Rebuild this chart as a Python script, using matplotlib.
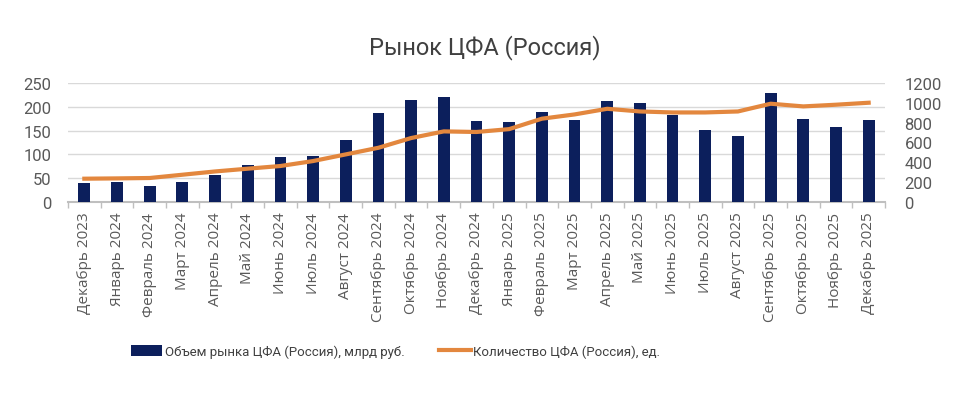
import matplotlib
matplotlib.use("Agg")
import matplotlib.pyplot as plt
import numpy as np

plt.rcParams['font.family'] = ['Roboto', 'DejaVu Sans']

months = ["Декабрь 2023", "Январь 2024", "Февраль 2024", "Март 2024", "Апрель 2024",
          "Май 2024", "Июнь 2024", "Июль 2024", "Август 2024", "Сентябрь 2024",
          "Октябрь 2024", "Ноябрь 2024", "Декабрь 2024", "Январь 2025", "Февраль 2025",
          "Март 2025", "Апрель 2025", "Май 2025", "Июнь 2025", "Июль 2025",
          "Август 2025", "Сентябрь 2025", "Октябрь 2025", "Ноябрь 2025", "Декабрь 2025"]

# объем рынка, млрд руб.
volume = [39, 41, 34, 42, 56, 77, 94, 96, 131, 187, 215, 220, 171,
          168, 189, 173, 213, 208, 182, 152, 138, 229, 175, 158, 173]

# количество выпусков, ед.
count = [235, 238, 242, 275, 308, 336, 363, 413, 480, 547, 645, 712, 706,
         735, 840, 883, 940, 913, 903, 903, 913, 991, 964, 981, 1001]

navy = "#0c1f5c"
orange = "#e3873e"
grey_txt = "#595959"

fig = plt.figure(figsize=(9.6, 4.14), dpi=100)
ax = fig.add_axes([68 / 960, 1 - 203 / 414, 817 / 960, 119 / 414])
ax2 = ax.twinx()

x = np.arange(len(months))
ax.bar(x, volume, width=0.36, color=navy, zorder=3, label="Объем рынка ЦФА (Россия), млрд руб.")
ax2.plot(x, count, color=orange, lw=3, zorder=4, label="Количество ЦФА (Россия), ед.")

ax.set_xlim(-0.5, len(months) - 0.5)
ax.set_ylim(0, 250)
ax2.set_ylim(0, 1200)
ax.set_yticks(range(0, 251, 50))
ax2.set_yticks(range(0, 1201, 200))
ax.grid(axis='y', color="#d9d9d9", lw=1, zorder=0)

for a in (ax, ax2):
    for s in a.spines.values():
        s.set_visible(False)
ax.spines['bottom'].set_visible(True)
ax.spines['bottom'].set_color("#bfbfbf")
ax.spines['bottom'].set_linewidth(1.5)

ax.set_xticks(x)
ax.set_xticklabels(months, rotation=90, fontsize=11, color=grey_txt,
                   family=['Open Sans', 'DejaVu Sans'])
ax.set_xticks(np.arange(-0.5, len(months), 1), minor=True)
ax.tick_params(axis='x', which='major', length=0, pad=7)
ax.tick_params(axis='x', which='minor', length=4, color="#bfbfbf", width=1)
ax.tick_params(axis='y', length=0, labelsize=12, labelcolor=grey_txt, pad=12)
ax2.tick_params(axis='y', length=0, labelsize=12, labelcolor=grey_txt, pad=14)

fig.text(0.505, 1 - 48 / 414, "Рынок ЦФА (Россия)", ha='center', va='center',
         fontsize=17, color="#404040")

h1, l1 = ax.get_legend_handles_labels()
h2, l2 = ax2.get_legend_handles_labels()
fig.legend(h1 + h2, l1 + l2, loc='center', bbox_to_anchor=(0.412, 1 - 352 / 414),
           ncol=2, frameon=False, fontsize=9.5, handlelength=2.4, handleheight=0.9,
           handletextpad=0.2, columnspacing=2.6, labelcolor="#404040")

fig.savefig("out.png", dpi=100)
